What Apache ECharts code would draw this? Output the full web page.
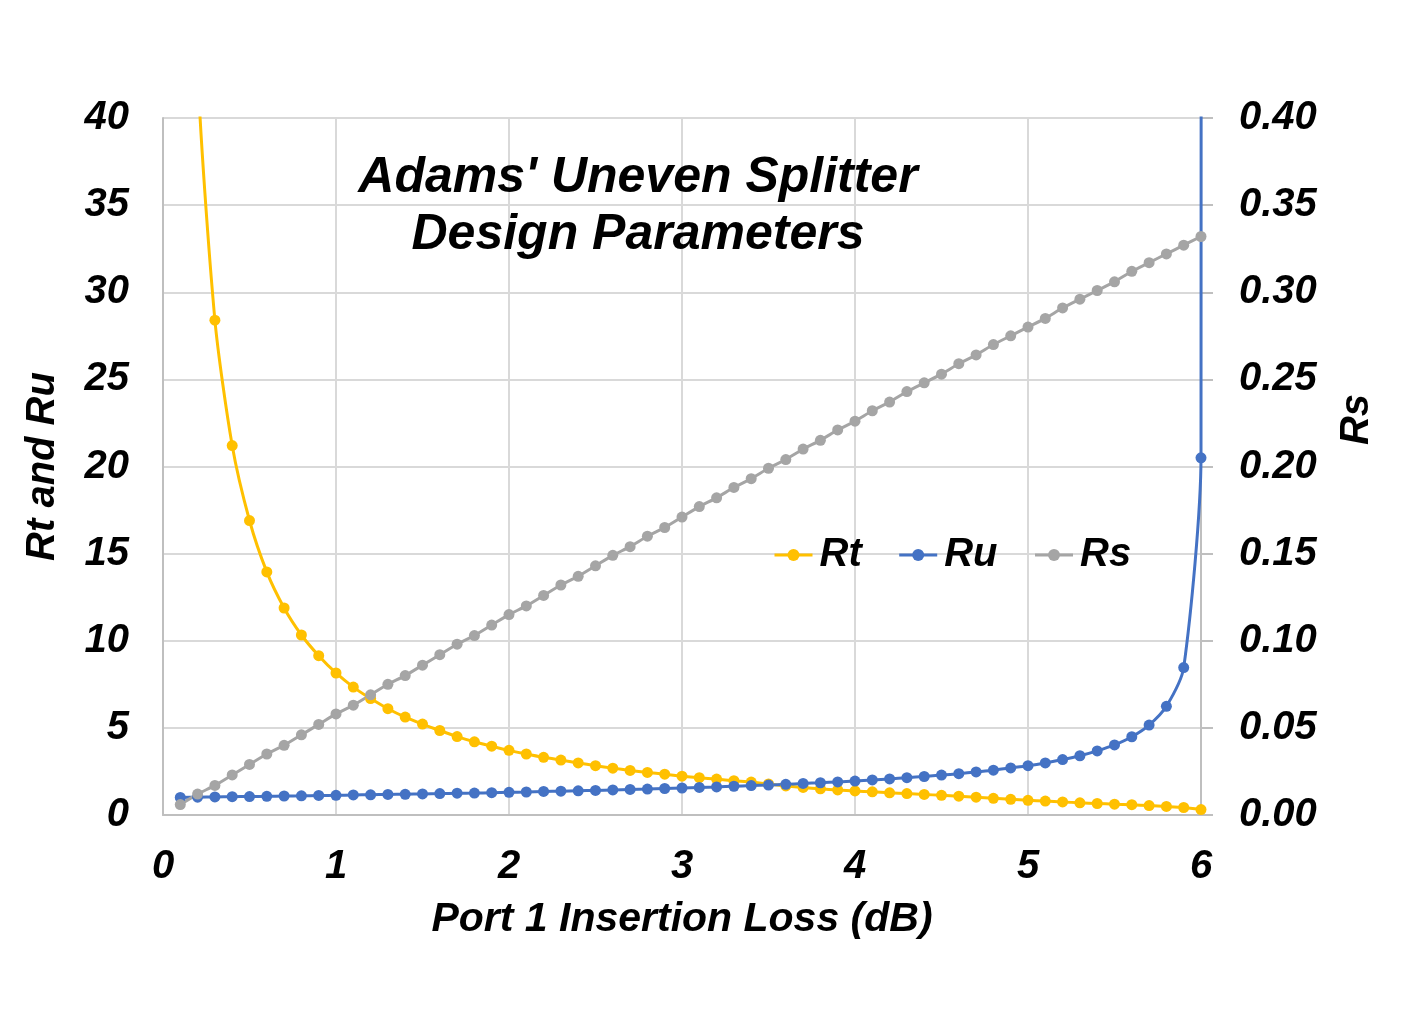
<!DOCTYPE html>
<html>
<head>
<meta charset="utf-8">
<script src="https://cdn.jsdelivr.net/npm/echarts@6/dist/echarts.min.js"></script>
<style>
html,body{margin:0;padding:0;background:#fff;}
#chart{width:1422px;height:1031px;}
</style>
</head>
<body>
<div id="chart"></div>
<script>
// Port 1 insertion loss (dB)
const lossDb = [
  0.1,0.2,0.3,0.4,0.5,0.6,0.7,0.8,0.9,1.0,
  1.1,1.2,1.3,1.4,1.5,1.6,1.7,1.8,1.9,2.0,
  2.1,2.2,2.3,2.4,2.5,2.6,2.7,2.8,2.9,3.0,
  3.1,3.2,3.3,3.4,3.5,3.6,3.7,3.8,3.9,4.0,
  4.1,4.2,4.3,4.4,4.5,4.6,4.7,4.8,4.9,5.0,
  5.1,5.2,5.3,5.4,5.5,5.6,5.7,5.8,5.9,6.0
];
const rtValues = [
  86,43,28.4,21.2,16.9,13.95,11.88,10.33,9.14,8.15,
  7.34,6.68,6.10,5.62,5.22,4.85,4.50,4.20,3.95,3.71,
  3.50,3.31,3.15,2.99,2.83,2.69,2.56,2.44,2.34,2.23,
  2.14,2.06,1.97,1.89,1.78,1.67,1.58,1.50,1.44,1.38,
  1.33,1.27,1.23,1.18,1.13,1.08,1.02,0.96,0.90,0.84,
  0.80,0.75,0.70,0.66,0.62,0.59,0.54,0.49,0.43,0.31
];
const ruValues = [
  1.01,1.02,1.04,1.05,1.06,1.07,1.09,1.10,1.12,1.13,
  1.15,1.16,1.18,1.19,1.21,1.23,1.25,1.26,1.28,1.30,
  1.32,1.35,1.37,1.39,1.41,1.44,1.47,1.49,1.52,1.55,
  1.58,1.61,1.65,1.69,1.72,1.76,1.81,1.85,1.90,1.95,
  2.01,2.07,2.14,2.21,2.29,2.37,2.47,2.57,2.70,2.83,
  2.99,3.18,3.40,3.68,4.02,4.49,5.16,6.24,8.46,20.5
];
// Ru goes off-scale just past the axis end (clipped by the plot)
const ruPoleX = [6.0206];
const ruPoleValue = [1000];
const rsValues = [
  0.006,0.012,0.017,0.023,0.029,0.035,0.040,0.046,0.052,0.058,
  0.063,0.069,0.075,0.080,0.086,0.092,0.098,0.103,0.109,0.115,
  0.120,0.126,0.132,0.137,0.143,0.149,0.154,0.160,0.165,0.171,
  0.177,0.182,0.188,0.193,0.199,0.204,0.210,0.215,0.221,0.226,
  0.232,0.237,0.243,0.248,0.253,0.259,0.264,0.270,0.275,0.280,
  0.285,0.291,0.296,0.301,0.306,0.312,0.317,0.322,0.327,0.332
];
const leftTicks = [0,5,10,15,20,25,30,35,40];
const rightTicks = ['0.00','0.05','0.10','0.15','0.20','0.25','0.30','0.35','0.40'];

const FONT = "'Liberation Sans', Arial, sans-serif";
const txt = (size) => ({fontFamily: FONT, fontWeight: 'bold', fontStyle: 'italic', fontSize: size, color: '#000'});

const pairs = (xs, ys) => xs.map((x, i) => [x, ys[i]]);
const ruData = pairs(lossDb, ruValues).concat(pairs(ruPoleX, ruPoleValue));

const chart = echarts.init(document.getElementById('chart'), null, {renderer: 'canvas'});
const gridColor = '#d9d9d9';
const axisColor = '#bfbfbf';

chart.setOption({
  backgroundColor: '#fff',
  animation: false,
  title: {
    text: "Adams' Uneven Splitter\nDesign Parameters",
    left: 633, top: 145, textAlign: 'center',
    textStyle: Object.assign(txt(50), {lineHeight: 57})
  },
  legend: {
    left: 768, top: 530,
    itemWidth: 38, itemHeight: 15, itemGap: 36,
    data: ['Rt','Ru','Rs'],
    lineStyle: {width: 3},
    textStyle: Object.assign(txt(40), {lineHeight: 40, padding: [0,0,0,2]})
  },
  grid: {left: 163, right: 221, top: 118, bottom: 216, containLabel: false},
  xAxis: {
    type: 'value', min: 0, max: 6, interval: 1,
    name: 'Port 1 Insertion Loss (dB)', nameLocation: 'middle', nameGap: 84,
    nameTextStyle: txt(41),
    axisLine: {show: true, lineStyle: {color: axisColor, width: 2}},
    axisTick: {show: false},
    axisLabel: Object.assign(txt(40), {margin: 32}),
    splitLine: {show: true, lineStyle: {color: gridColor, width: 2}}
  },
  yAxis: [{
    type: 'value', min: 0, max: 40, interval: 5, position: 'left',
    name: 'Rt and Ru', nameLocation: 'middle', nameGap: 100, nameRotate: 90,
    nameTextStyle: txt(40),
    axisLine: {show: true, lineStyle: {color: axisColor, width: 2}},
    axisTick: {show: false},
    axisLabel: Object.assign(txt(40), {margin: 34, padding: [12,0,0,0], formatter: (v) => String(leftTicks[Math.round(v / 5)])}),
    splitLine: {show: true, lineStyle: {color: gridColor, width: 2}}
  }, {
    type: 'value', min: 0, max: 0.4, interval: 0.05, position: 'right',
    name: 'Rs', nameLocation: 'middle', nameGap: 136, nameRotate: 90,
    nameTextStyle: Object.assign(txt(40), {padding: [0,0,0,94]}),
    axisLine: {show: true, lineStyle: {color: axisColor, width: 2}},
    axisTick: {show: true, inside: false, length: 12, lineStyle: {color: axisColor, width: 2}},
    axisLabel: Object.assign(txt(40), {margin: 38, padding: [12,0,0,0], formatter: (v) => rightTicks[Math.round(v / 0.05)]}),
    splitLine: {show: false}
  }],
  series: [{
    name: 'Rt', type: 'line', yAxisIndex: 0, clip: true,
    data: pairs(lossDb, rtValues),
    smooth: 0.25,
    symbol: 'circle', symbolSize: 11,
    lineStyle: {color: '#FFC000', width: 3},
    itemStyle: {color: '#FFC000'}
  }, {
    name: 'Ru', type: 'line', yAxisIndex: 0, clip: true,
    data: ruData,
    smooth: 0.25,
    symbol: 'circle', symbolSize: 11,
    lineStyle: {color: '#4472C4', width: 3},
    itemStyle: {color: '#4472C4'}
  }, {
    name: 'Rs', type: 'line', yAxisIndex: 1, clip: true,
    data: pairs(lossDb, rsValues),
    smooth: 0.25,
    symbol: 'circle', symbolSize: 11,
    lineStyle: {color: '#A5A5A5', width: 3},
    itemStyle: {color: '#A5A5A5'}
  }]
});
</script>
</body>
</html>
